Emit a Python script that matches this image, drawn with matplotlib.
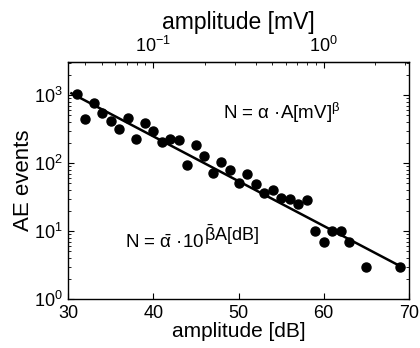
import numpy as np
import matplotlib
matplotlib.use("Agg")
import matplotlib.pyplot as plt

plt.rcParams['font.family'] = ['Liberation Sans', 'DejaVu Sans']
plt.rcParams['mathtext.fontset'] = 'custom'
plt.rcParams['mathtext.rm'] = 'Liberation Sans'
plt.rcParams['mathtext.it'] = 'Liberation Sans'

# data
amp_db = [31, 32, 33, 34, 35, 36, 37, 38, 39, 40, 41, 42, 43, 44, 45, 46, 47, 48,
          49, 50, 51, 52, 53, 54, 55, 56, 57, 58, 59, 60, 61, 62, 63, 65, 69]
events = [1030, 440, 755, 540, 420, 316, 464, 228, 383, 296, 206, 228, 215, 92,
          182, 125, 71, 103, 80, 50, 70, 49, 36, 40, 31, 30, 25, 29, 10, 7, 10,
          10, 7, 3, 3]

# fit N = alpha_bar * 10^(beta_bar * A[dB])
log_alpha_bar = 5.028
beta_bar = -0.0659
fit_range = [30.4, 69.4]

xx = np.linspace(fit_range[0], fit_range[1], 50)
yy = 10 ** (log_alpha_bar + beta_bar * xx)

fig = plt.figure(figsize=(4.2, 3.48), dpi=100)
ax = fig.add_axes([68 / 420, 1 - 299 / 348, 341 / 420, 237 / 348])

ax.plot(xx, yy, color='black', lw=1.8)
ax.plot(amp_db, events, 'o', color='black', ms=6.5)

ax.set_yscale('log')
ax.set_xlim(30, 70)
ax.set_ylim(1, 10 ** 3.485)
ax.set_xticks([30, 40, 50, 60, 70])
ax.tick_params(which='both', direction='in', right=True, labelsize=13, pad=4)
ax.tick_params(which='major', length=4)
ax.tick_params(which='minor', length=2)
ax.set_xlabel('amplitude [dB]', fontsize=15, labelpad=0)
ax.set_ylabel('AE events', fontsize=16, labelpad=0)

# top axis in mV: dB = 20*log10(mV) + 60
top = ax.secondary_xaxis('top', functions=(lambda d: 10 ** ((d - 60) / 20.0),
                                           lambda v: 20 * np.log10(np.clip(v, 1e-12, None)) + 60))
top.set_xscale('log')
top.set_xticks([0.1, 1])
top.tick_params(which='both', direction='in', labelsize=13, pad=4)
top.tick_params(which='major', length=4)
top.tick_params(which='minor', length=2)
top.set_xlabel('amplitude [mV]', fontsize=16.5, labelpad=5)

for s in ax.spines.values():
    s.set_linewidth(1.0)

ax.text(48.2, 543, r'N = α ·A[mV]$^{β}$', fontsize=13.5,
        va='center', ha='left')
t1 = ax.text(36.7, 6.6, r'N = $\bar{α}$ ·10', fontsize=13.5,
             va='center', ha='left')
ax.annotate(r'$\bar{β}$A[dB]', xy=(1, 0.3), xycoords=t1, fontsize=13,
            va='bottom', ha='left')

fig.savefig('out.png', dpi=100)
